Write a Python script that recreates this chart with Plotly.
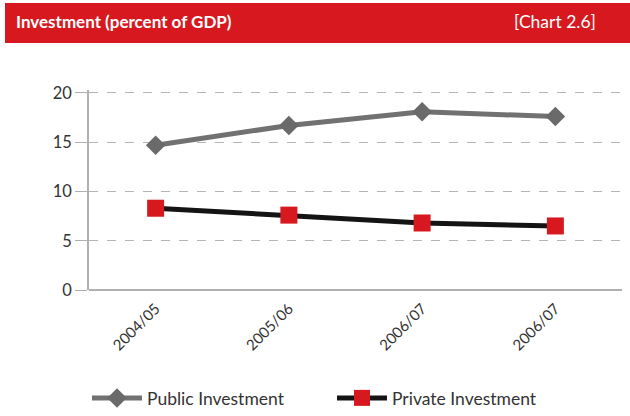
import plotly.graph_objects as go

# Fiscal years (the last label repeats in the source table)
years = ["2004/05", "2005/06", "2006/07", "2006/07"]
public_investment = [14.7, 16.7, 18.1, 17.6]
private_investment = [8.3, 7.6, 6.8, 6.5]
y_ticks = [0, 5, 10, 15, 20]

x_pos = list(range(len(years)))

RED = "#d7191f"
TEXT = "#333333"

fig = go.Figure()
fig.add_trace(go.Scatter(
    x=x_pos, y=public_investment, name="Public Investment",
    mode="lines+markers",
    line=dict(color="#717171", width=5),
    marker=dict(symbol="diamond", size=15, color="#6a6a6a"),
))
fig.add_trace(go.Scatter(
    x=x_pos, y=private_investment, name="Private Investment",
    mode="lines+markers",
    line=dict(color="#141414", width=5),
    marker=dict(symbol="square", size=17, color=RED),
))

# Header band (plot area spans 89..622 px horizontally, 90..290 px vertically)
def px_x(p):
    return (p - 89) / 533.0


def px_y(p):
    return (290 - p) / 200.0


fig.add_shape(type="rect", xref="paper", yref="paper",
              x0=px_x(5), x1=px_x(632), y0=px_y(43), y1=px_y(3),
              fillcolor=RED, line=dict(width=0), layer="below")
fig.add_annotation(xref="paper", yref="paper", x=px_x(14), y=px_y(22),
                   xanchor="left", yanchor="middle", showarrow=False,
                   text="<b>Investment (percent of GDP)</b>",
                   font=dict(family="Lato", size=17, color="white"))
fig.add_annotation(xref="paper", yref="paper", x=px_x(598), y=px_y(22),
                   xanchor="right", yanchor="middle", showarrow=False,
                   text="[Chart 2.6]",
                   font=dict(family="Lato", size=17.5, color="white"))

fig.update_layout(
    width=630, height=416,
    margin=dict(l=89, r=8, t=90, b=126, autoexpand=False),
    paper_bgcolor="white", plot_bgcolor="white",
    font=dict(family="Lato", color=TEXT),
    showlegend=True,
    legend=dict(orientation="h", x=px_x(87), y=px_y(398), xanchor="left",
                yanchor="middle", font=dict(size=17.5, color=TEXT),
                itemwidth=50, tracegroupgap=0, entrywidth=180,
                bgcolor="rgba(0,0,0,0)"),
    xaxis=dict(range=[-0.5, 3.5], tickvals=x_pos, ticktext=years,
               tickangle=-45, tickfont=dict(size=15, color=TEXT),
               showgrid=False, zeroline=False, showline=False,
               ticks="", automargin=False, ticklabelstandoff=6),
    yaxis=dict(range=[0, 20.3], tickvals=y_ticks,
               tickfont=dict(size=16.5, color=TEXT),
               showgrid=True, gridcolor="#b5b5b5", griddash="dash",
               gridwidth=1.2, automargin=False,
               zeroline=True, zerolinecolor="#b0b0b0", zerolinewidth=1.5,
               showline=True, linecolor="#b0b0b0", linewidth=1.5,
               ticks="outside", ticklen=12, tickcolor="#b0b0b0"),
)

fig.write_html("out.html")
